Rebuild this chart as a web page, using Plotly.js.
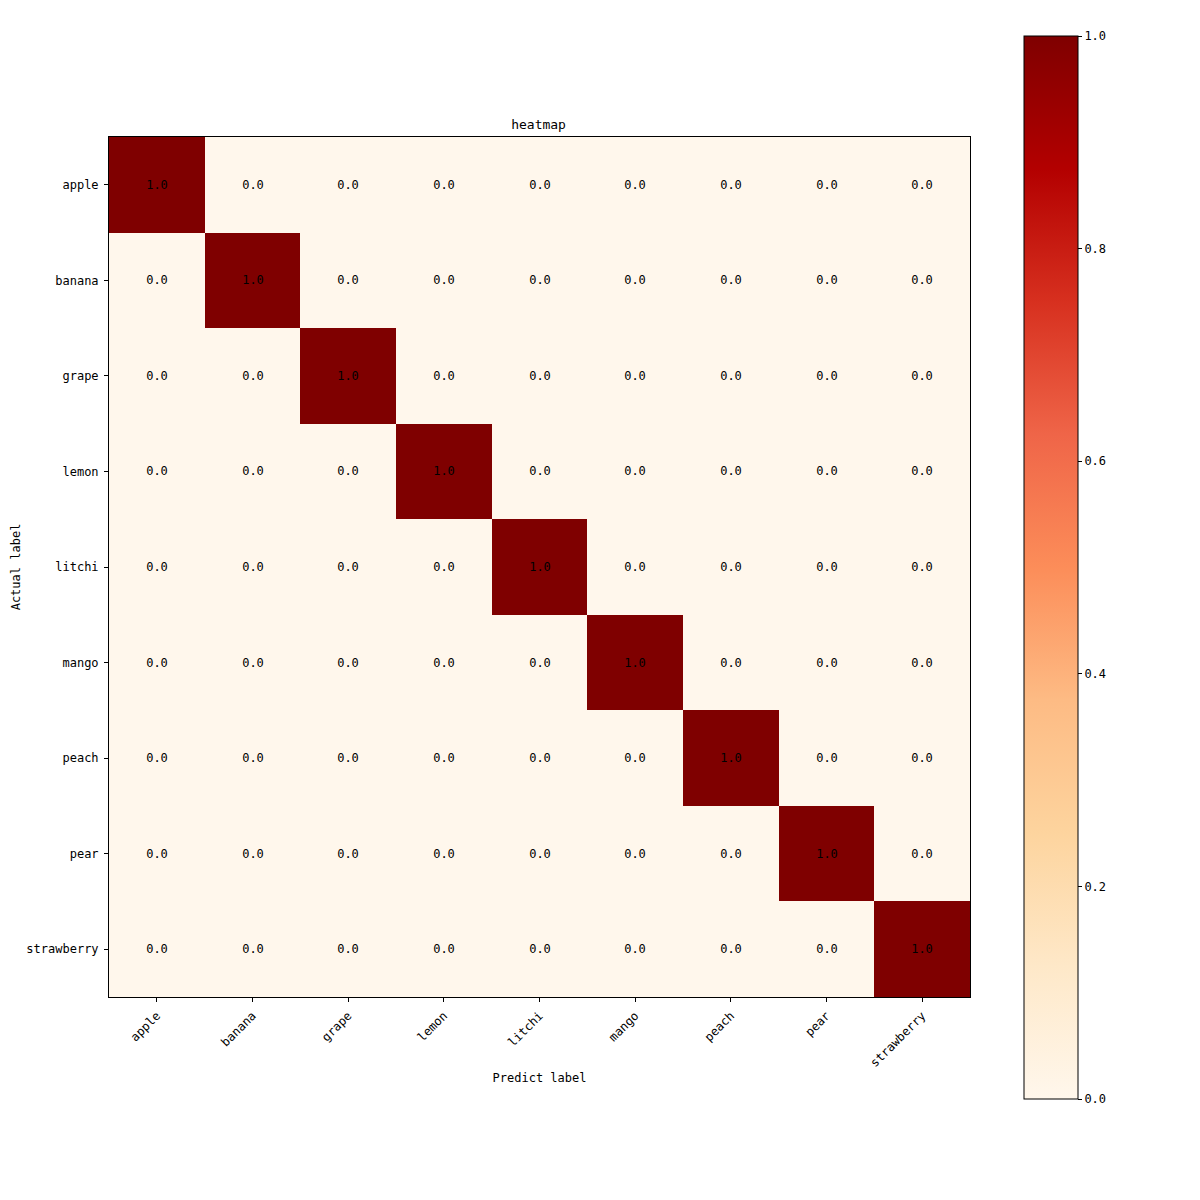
<!DOCTYPE html>
<html>
<head>
<meta charset="utf-8">
<script src="https://cdn.plot.ly/plotly-3.0.1.min.js"></script>
<style>html,body{margin:0;padding:0;background:#fff;}</style>
</head>
<body>
<div id="chart" style="width:1200px;height:1200px;"></div>
<script>
const predictLabels = ["apple","banana","grape","lemon","litchi","mango","peach","pear","strawberry"];
const actualLabels = ["apple","banana","grape","lemon","litchi","mango","peach","pear","strawberry"];
const matrix = [
  [1,0,0,0,0,0,0,0,0],
  [0,1,0,0,0,0,0,0,0],
  [0,0,1,0,0,0,0,0,0],
  [0,0,0,1,0,0,0,0,0],
  [0,0,0,0,1,0,0,0,0],
  [0,0,0,0,0,1,0,0,0],
  [0,0,0,0,0,0,1,0,0],
  [0,0,0,0,0,0,0,1,0],
  [0,0,0,0,0,0,0,0,1]
];
const orRd = [
  [0,"#fff7ec"],[0.125,"#fee8c8"],[0.25,"#fdd49e"],[0.375,"#fdbb84"],
  [0.5,"#fc8d59"],[0.625,"#ef6548"],[0.75,"#d7301f"],[0.875,"#b30000"],[1,"#7f0000"]
];
const FONT = "'DejaVu Sans Mono', 'Noto Sans CJK SC', monospace";
const trace = {
  type: "heatmap",
  x: predictLabels,
  y: actualLabels,
  z: matrix,
  zmin: 0, zmax: 1,
  colorscale: orRd,
  xgap: 0, ygap: 0,
  texttemplate: "%{z:.1f}",
  textfont: {family: FONT, size: 12, color: "#000"},
  hoverinfo: "skip",
  colorbar: {
    x: (1024-109)/861, xanchor: "left", xpad: 0,
    y: (997-567.5)/860, yanchor: "middle", ypad: 0,
    lenmode: "pixels", len: 1063,
    thicknessmode: "pixels", thickness: 54,
    outlinewidth: 1, outlinecolor: "#000",
    tickmode: "linear", tick0: 0, dtick: 0.2, tickformat: ".1f",
    ticks: "outside", ticklen: 4, tickwidth: 1, tickcolor: "#000",
    ticklabelstandoff: 3,
    tickfont: {family: FONT, size: 12, color: "#000"}
  }
};
const layout = {
  width: 1200, height: 1200,
  margin: {l: 109, r: 230, t: 137, b: 203},
  paper_bgcolor: "#fff", plot_bgcolor: "#fff",
  font: {family: FONT, size: 12, color: "#000"},
  title: {text: "heatmap", x: 0.4488, xanchor: "center", y: 1 - 124/1200, yanchor: "middle", font: {family: FONT, size: 13, color: "#000"}},
  xaxis: {
    type: "category", showgrid: false, zeroline: false,
    showline: true, linecolor: "#000", linewidth: 1, mirror: true,
    ticks: "outside", ticklen: 4, tickcolor: "#000", tickangle: -45,
    ticklabelstandoff: 2,
    tickfont: {family: FONT, size: 12, color: "#000"},
    title: {text: "Predict label", standoff: 4, font: {family: FONT, size: 12, color: "#000"}}
  },
  yaxis: {
    type: "category", autorange: "reversed", showgrid: false, zeroline: false,
    showline: true, linecolor: "#000", linewidth: 1, mirror: true,
    ticks: "outside", ticklen: 4, tickcolor: "#000",
    ticklabelstandoff: 3,
    tickfont: {family: FONT, size: 12, color: "#000"},
    title: {text: "Actual label", standoff: 3, font: {family: FONT, size: 12, color: "#000"}}
  }
};
Plotly.newPlot("chart", [trace], layout, {displayModeBar: false, responsive: false});
</script>
</body>
</html>
